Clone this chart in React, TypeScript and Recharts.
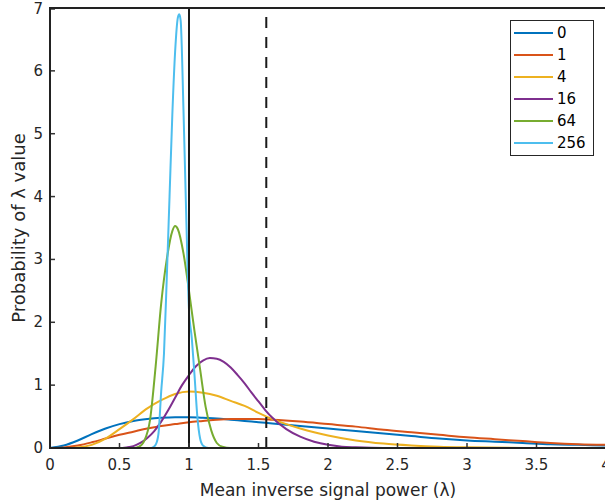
import { LineChart, Line, XAxis, YAxis, ReferenceLine, Legend } from "recharts";

const FONT = "'DejaVu Sans', sans-serif";
const INK = "#262626";

const X_TICKS = [0, 0.5, 1, 1.5, 2, 2.5, 3, 3.5, 4];
const Y_TICKS = [0, 1, 2, 3, 4, 5, 6, 7];

const SERIES_NAMES = ["0", "1", "4", "16", "64", "256"];
const SERIES_COLORS = ["#0072BD", "#D95319", "#EDB120", "#7E2F8E", "#77AC30", "#4DBEEE"];

// lambda positions and probability values
const LAMBDA_0 = [0, 0.1, 0.2, 0.3, 0.4, 0.5, 0.6, 0.7, 0.8, 0.9, 1.0, 1.1, 1.2, 1.3, 1.4, 1.5, 1.6, 1.8, 2.0, 2.2, 2.4, 2.6, 2.8, 3.0, 3.2, 3.4, 3.6, 3.8, 4.0];
const PROB_0 = [0, 0.04, 0.12, 0.22, 0.31, 0.38, 0.43, 0.46, 0.48, 0.49, 0.49, 0.48, 0.47, 0.45, 0.43, 0.41, 0.39, 0.35, 0.31, 0.27, 0.23, 0.19, 0.15, 0.12, 0.1, 0.08, 0.06, 0.05, 0.04];

const LAMBDA_1 = [0, 0.1, 0.2, 0.3, 0.4, 0.5, 0.6, 0.7, 0.8, 0.9, 1.0, 1.1, 1.2, 1.3, 1.4, 1.5, 1.6, 1.8, 2.0, 2.2, 2.4, 2.6, 2.8, 3.0, 3.2, 3.4, 3.6, 3.8, 4.0];
const PROB_1 = [0, 0.01, 0.04, 0.09, 0.15, 0.21, 0.26, 0.31, 0.35, 0.38, 0.41, 0.43, 0.45, 0.46, 0.46, 0.46, 0.45, 0.42, 0.38, 0.34, 0.29, 0.25, 0.21, 0.17, 0.14, 0.11, 0.08, 0.06, 0.05];

const LAMBDA_4 = [0, 0.1, 0.2, 0.3, 0.4, 0.5, 0.6, 0.7, 0.8, 0.9, 1.0, 1.1, 1.2, 1.3, 1.4, 1.5, 1.6, 1.7, 1.8, 1.9, 2.0, 2.2, 2.4, 2.6, 2.8, 3.0, 3.5, 4.0];
const PROB_4 = [0, 0, 0.01, 0.05, 0.15, 0.3, 0.46, 0.63, 0.76, 0.86, 0.9, 0.88, 0.83, 0.75, 0.67, 0.56, 0.46, 0.38, 0.31, 0.25, 0.2, 0.12, 0.07, 0.04, 0.02, 0.01, 0, 0];

const LAMBDA_16 = [0, 0.4, 0.5, 0.55, 0.6, 0.65, 0.7, 0.75, 0.8, 0.85, 0.9, 0.95, 1.0, 1.05, 1.1, 1.15, 1.2, 1.25, 1.3, 1.35, 1.4, 1.45, 1.5, 1.55, 1.6, 1.7, 1.8, 1.9, 2.0, 2.1, 2.2, 2.4, 4.0];
const PROB_16 = [0, 0, 0, 0.01, 0.03, 0.08, 0.16, 0.27, 0.42, 0.6, 0.8, 1.0, 1.16, 1.3, 1.39, 1.43, 1.42, 1.37, 1.28, 1.16, 1.03, 0.88, 0.74, 0.6, 0.48, 0.3, 0.18, 0.1, 0.05, 0.02, 0.01, 0, 0];

const LAMBDA_64 = [0, 0.6, 0.64, 0.68, 0.72, 0.76, 0.8, 0.84, 0.88, 0.9, 0.92, 0.96, 1.0, 1.04, 1.08, 1.12, 1.16, 1.2, 1.24, 1.3, 4.0];
const PROB_64 = [0, 0, 0.02, 0.12, 0.45, 1.3, 2.3, 3.0, 3.45, 3.53, 3.48, 3.1, 2.5, 1.85, 1.25, 0.65, 0.28, 0.08, 0.02, 0, 0];

const LAMBDA_256 = [0, 0.72, 0.74, 0.76, 0.78, 0.8, 0.82, 0.84, 0.86, 0.88, 0.9, 0.92, 0.93, 0.94, 0.96, 0.98, 1.0, 1.02, 1.04, 1.06, 1.08, 1.1, 1.14, 4.0];
const PROB_256 = [0, 0, 0.01, 0.05, 0.22, 0.9, 1.5, 2.7, 4.0, 5.3, 6.3, 6.85, 6.9, 6.8, 5.4, 3.7, 2.2, 1.75, 1.15, 0.5, 0.15, 0.04, 0, 0];

const SOLID_REF = 1;
const DASHED_REF = 1.556;

const LAMBDAS = [LAMBDA_0, LAMBDA_1, LAMBDA_4, LAMBDA_16, LAMBDA_64, LAMBDA_256];
const PROBS = [PROB_0, PROB_1, PROB_4, PROB_16, PROB_64, PROB_256];

const series = SERIES_NAMES.map((name, i) => ({
  name,
  color: SERIES_COLORS[i],
  data: LAMBDAS[i].map((x, j) => ({ x, y: PROBS[i][j] })),
}));

// MATLAB style: ticks point into the plot box
function BottomTick(props: any) {
  const { x, y, payload } = props;
  const axisY = y - 17;
  return (
    <g>
      <line x1={x} x2={x} y1={axisY} y2={axisY - 5} stroke="#333" strokeWidth={1.5} />
      <text x={x} y={y} textAnchor="middle" dominantBaseline="central" fontSize={15} fontFamily={FONT} fill={INK}>
        {payload.value}
      </text>
    </g>
  );
}

function LeftTick(props: any) {
  const { x, y, payload } = props;
  const axisX = x + 7;
  return (
    <g>
      <line x1={axisX} x2={axisX + 5} y1={y} y2={y} stroke="#333" strokeWidth={1.5} />
      <text x={x} y={y} textAnchor="end" dominantBaseline="central" fontSize={15} fontFamily={FONT} fill={INK}>
        {payload.value}
      </text>
    </g>
  );
}

function TopTick(props: any) {
  const { x, y } = props;
  return <line x1={x} x2={x} y1={y} y2={y + 5} stroke="#333" strokeWidth={1.5} />;
}

function RightTick(props: any) {
  const { x, y } = props;
  return <line x1={x} x2={x - 5} y1={y} y2={y} stroke="#333" strokeWidth={1.5} />;
}

function LegendBox() {
  return (
    <div
      style={{
        boxSizing: "border-box",
        width: 84,
        border: `1.5px solid ${INK}`,
        background: "#fff",
        padding: "1px 0",
        fontFamily: FONT,
        fontSize: 15,
        color: "#000",
      }}
    >
      {SERIES_NAMES.map((name, i) => (
        <div key={name} style={{ display: "flex", alignItems: "center", height: 22 }}>
          <span style={{ display: "inline-block", width: 39, height: 2, marginLeft: 3, marginRight: 4, background: SERIES_COLORS[i] }} />
          <span>{name}</span>
        </div>
      ))}
    </div>
  );
}

export default function App() {
  return (
    <div style={{ position: "absolute", left: 0, top: 0, width: 605, height: 504, overflow: "hidden", background: "#fff" }}>
      <LineChart width={613} height={504} margin={{ top: 7, right: 6, bottom: 0, left: 0 }}>
        <XAxis
          dataKey="x"
          type="number"
          domain={[0, 4]}
          ticks={X_TICKS}
          height={56}
          stroke="#222"
          axisLine={{ stroke: "#222", strokeWidth: 2 }}
          tickLine={false}
          tickSize={0}
          tickMargin={17}
          tick={<BottomTick />}
          label={{
            content: (p: any) => (
              <text
                x={p.viewBox.x + p.viewBox.width / 2}
                y={p.viewBox.y + 42}
                textAnchor="middle"
                dominantBaseline="central"
                fontSize={17}
                fontFamily={FONT}
                fill={INK}
              >
                Mean inverse signal power (λ)
              </text>
            ),
          }}
        />
        <XAxis
          xAxisId="top"
          orientation="top"
          type="number"
          domain={[0, 4]}
          ticks={X_TICKS}
          height={1}
          stroke="#222"
          axisLine={{ stroke: "#222", strokeWidth: 2 }}
          tickLine={false}
          tickSize={0}
          tickMargin={0}
          tick={<TopTick />}
        />
        <YAxis
          type="number"
          domain={[0, 7]}
          ticks={Y_TICKS}
          width={50}
          stroke="#222"
          axisLine={{ stroke: "#222", strokeWidth: 2 }}
          tickLine={false}
          tickSize={0}
          tickMargin={7}
          tick={<LeftTick />}
          label={{
            content: (p: any) => {
              const cx = p.viewBox.x + 18;
              const cy = p.viewBox.y + p.viewBox.height / 2;
              return (
                <text
                  x={cx}
                  y={cy}
                  transform={`rotate(-90 ${cx} ${cy})`}
                  textAnchor="middle"
                  dominantBaseline="central"
                  fontSize={18}
                  fontFamily={FONT}
                  fill={INK}
                >
                  Probability of λ value
                </text>
              );
            },
          }}
        />
        <YAxis
          yAxisId="right"
          orientation="right"
          type="number"
          domain={[0, 7]}
          ticks={Y_TICKS}
          width={1}
          stroke="#222"
          axisLine={{ stroke: "#222", strokeWidth: 2 }}
          tickLine={false}
          tickSize={0}
          tickMargin={0}
          tick={<RightTick />}
        />
        {series.map((s) => (
          <Line
            key={s.name}
            data={s.data}
            dataKey="y"
            name={s.name}
            type="monotone"
            stroke={s.color}
            strokeWidth={2}
            dot={false}
            activeDot={false}
            isAnimationActive={false}
          />
        ))}
        <ReferenceLine x={SOLID_REF} stroke="#1a1a1a" strokeWidth={2} />
        <ReferenceLine x={DASHED_REF} stroke="#1a1a1a" strokeWidth={2} strokeDasharray="11 9" />
        <Legend
          layout="vertical"
          align="center"
          verticalAlign="middle"
          wrapperStyle={{ left: 510, top: 20, width: 84 }}
          content={() => <LegendBox />}
        />
      </LineChart>
      {/* plot frame, drawn on top so the box always shows */}
      <div
        style={{
          position: "absolute",
          left: 49,
          top: 7,
          width: 558,
          height: 442,
          boxSizing: "border-box",
          border: "2px solid #222",
          pointerEvents: "none",
        }}
      />
    </div>
  );
}
